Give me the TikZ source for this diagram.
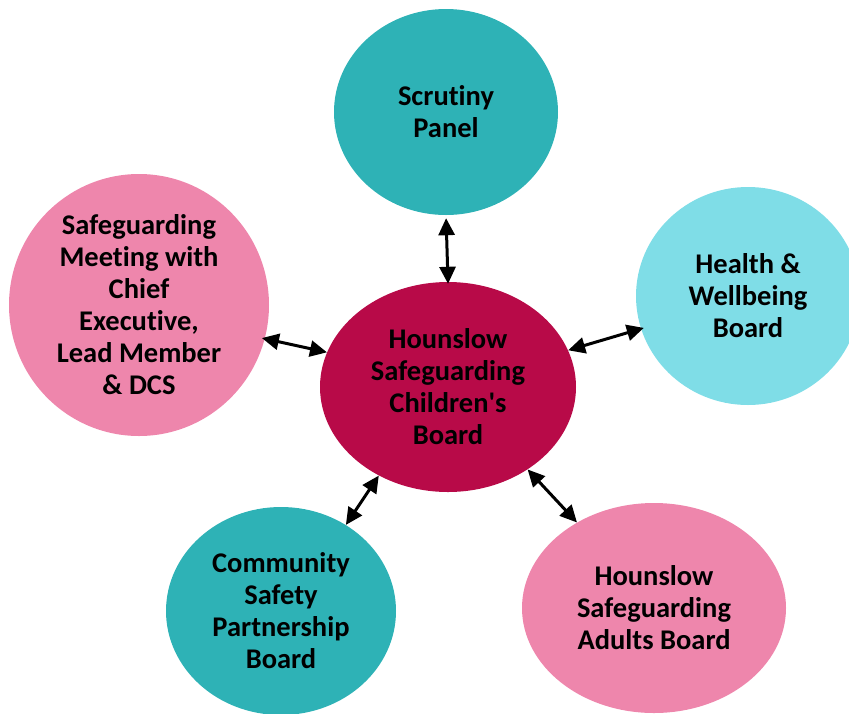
\documentclass[tikz,border=0pt]{standalone}
\usepackage{fontspec}
\setmainfont{Carlito}[Ligatures=NoCommon]
\usetikzlibrary{shapes.geometric,arrows.meta}

\definecolor{boardTeal}{HTML}{2EB2B6}
\definecolor{boardPink}{HTML}{EE86AC}
\definecolor{boardHub} {HTML}{B80A48}
\definecolor{boardSky} {HTML}{7FDDE7}

\begin{document}
\begin{tikzpicture}[x=1pt, y=-1pt,
        board/.style={ellipse, inner sep=0pt, align=center,
              font=\fontsize{28.5}{32}\selectfont\bfseries},
        link/.style={{Triangle[length=17pt,width=16pt]}-{Triangle[length=17pt,width=16pt]},
              line width=3pt}]
        \useasboundingbox (0,0) rectangle (849,713);

        \node[board, fill=boardHub, minimum width=256, minimum height=210]
              (hub) at (448,387) {Hounslow\\Safeguarding\\Children\textquotesingle s\\Board};
        \node[board, fill=boardTeal, minimum width=224, minimum height=206]
              (scr) at (446,112) {Scrutiny\\Panel};
        \node[board, fill=boardPink, minimum width=260, minimum height=262]
              (meet) at (139,305) {Safeguarding\\Meeting with\\Chief\\Executive,\\Lead Member\\\& DCS};
        \node[board, fill=boardSky, minimum width=224, minimum height=218]
              (hwb) at (748,296) {Health \&\\Wellbeing\\Board};
        \node[board, fill=boardTeal, minimum width=230, minimum height=208]
              (csp) at (281,611) {Community\\Safety\\Partnership\\Board};
        \node[board, fill=boardPink, minimum width=264, minimum height=210]
              (adults) at (654,608) {Hounslow\\Safeguarding\\Adults Board};

        % two-way links to the board
        \draw[link, shorten <=3pt, shorten >=-2pt](scr.south)--(hub.north);
        \draw[link, shorten <=-3pt](meet.-15.7)--(hub.164.7);
        \draw[link, shorten >=-3pt](hub.17.5)--(hwb.197);
        \draw[link](hub.232.9)--(csp.53.4);
        \draw[link](hub.-46.4)--(adults.132.9);
      \end{tikzpicture}
\end{document}
